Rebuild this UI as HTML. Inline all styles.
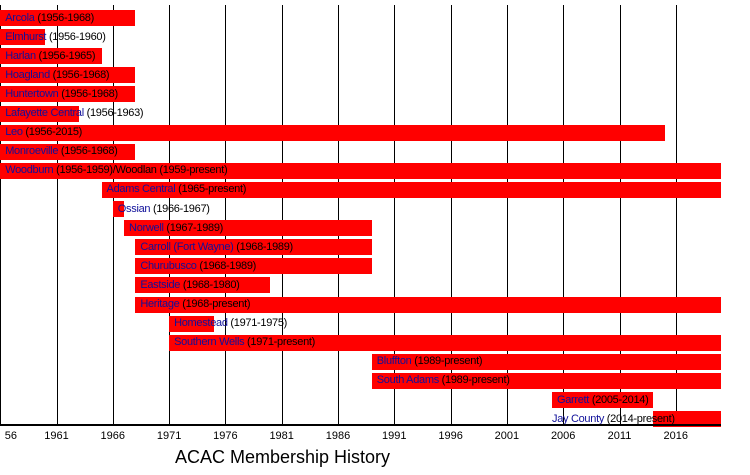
<!DOCTYPE html>
<html><head><meta charset="utf-8"><style>
body{margin:0;background:#fff;width:750px;height:475px;overflow:hidden;position:relative;font-family:"Liberation Sans",sans-serif}
.g{position:absolute;top:5px;width:1px;height:420px;background:#000}
.b{position:absolute;height:16px;background:#f00}
.l{position:absolute;font-size:11px;line-height:16px;white-space:nowrap;color:#000;letter-spacing:-0.3px}
.l span{color:#10109a}
.t{position:absolute;top:430px;font-size:11px;width:40px;text-align:center;margin-left:-20px}
</style></head><body>
<div id="c"></div>
<div style="position:absolute;left:0;top:424px;width:721px;height:1.5px;background:#000"></div>
<div style="position:absolute;left:175px;top:447px;font-size:18px">ACAC Membership History</div>
<script>
var X=function(y){return 0.2+(y-1956)*11.26};
var h='';
for(var y=1956;y<=2016;y+=5){h+='<div class="g" style="left:'+Math.round(X(y))+'px"></div>';h+='<div class="t" style="left:'+X(y)+'px">'+(y==1956?'&nbsp;&nbsp;&nbsp;&nbsp;&nbsp;&nbsp;&nbsp;56':y)+'</div>';}
var R=[["Arcola","(1956-1968)",1956,1968],["Elmhurst","(1956-1960)",1956,1960],["Harlan","(1956-1965)",1956,1965],["Hoagland","(1956-1968)",1956,1968],["Huntertown","(1956-1968)",1956,1968],["Lafayette Central","(1956-1963)",1956,1963],["Leo","(1956-2015)",1956,2015],["Monroeville","(1956-1968)",1956,1968],["Woodburn","(1956-1959)/Woodlan (1959-present)",1956,2020],["Adams Central","(1965-present)",1965,2020],["Ossian","(1966-1967)",1966,1967],["Norwell","(1967-1989)",1967,1989],["Carroll (Fort Wayne)","(1968-1989)",1968,1989],["Churubusco","(1968-1989)",1968,1989],["Eastside","(1968-1980)",1968,1980],["Heritage","(1968-present)",1968,2020],["Homestead","(1971-1975)",1971,1975],["Southern Wells","(1971-present)",1971,2020],["Bluffton","(1989-present)",1989,2020],["South Adams","(1989-present)",1989,2020],["Garrett","(2005-2014)",2005,2014],["Jay County","(2014-present)",2014,2020]];
R.forEach(function(r,i){var top=10+i*19.1;var x0=X(r[2]),x1=r[3]==2020?721:X(r[3]);
h+='<div class="b" style="left:'+x0+'px;top:'+top+'px;width:'+(x1-x0)+'px"></div>';
var lx=i==21?552:x0+5;
h+='<div class="l" style="left:'+lx+'px;top:'+(top-0.5)+'px"><span>'+r[0]+'</span> '+r[1]+'</div>';});
document.getElementById('c').innerHTML=h;
</script>
</body></html>
